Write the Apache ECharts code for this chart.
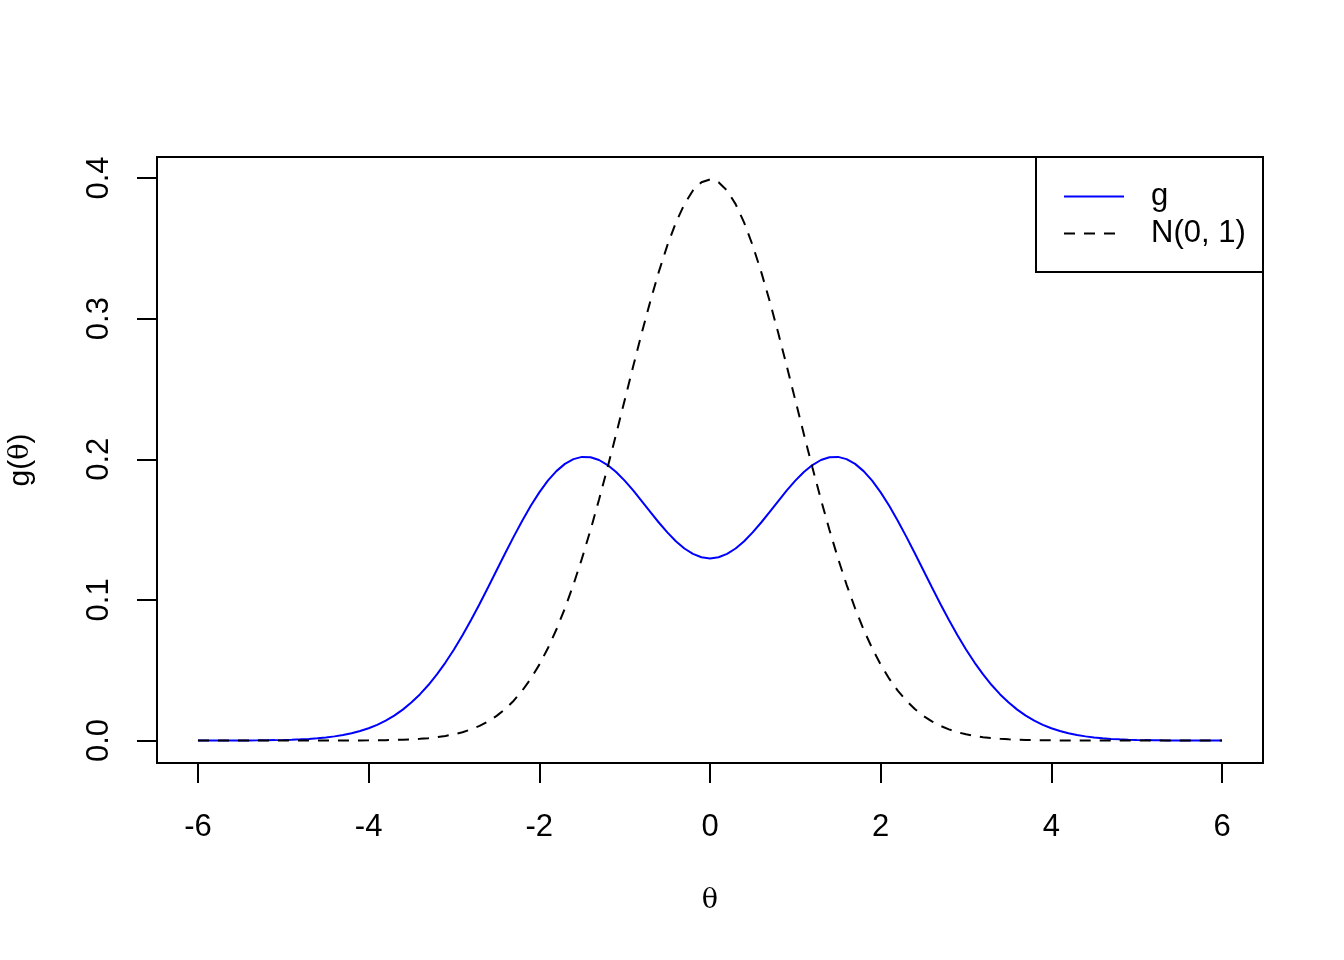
<!DOCTYPE html>
<html>
<head>
<meta charset="utf-8">
<script src="https://cdn.jsdelivr.net/npm/echarts@6/dist/echarts.min.js"></script>
<style>html,body{margin:0;padding:0;background:#fff;}#c{width:1344px;height:960px;}</style>
</head>
<body>
<div id="c"></div>
<script>
var thetaValues = [-6,-5.9,-5.8,-5.7,-5.6,-5.5,-5.4,-5.3,-5.2,-5.1,-5,-4.9,-4.8,-4.7,-4.6,-4.5,-4.4,-4.3,-4.2,-4.1,-4,-3.9,-3.8,-3.7,-3.6,-3.5,-3.4,-3.3,-3.2,-3.1,-3,-2.9,-2.8,-2.7,-2.6,-2.5,-2.4,-2.3,-2.2,-2.1,-2,-1.9,-1.8,-1.7,-1.6,-1.5,-1.4,-1.3,-1.2,-1.1,-1,-0.9,-0.8,-0.7,-0.6,-0.5,-0.4,-0.3,-0.2,-0.1,0,0.1,0.2,0.3,0.4,0.5,0.6,0.7,0.8,0.9,1,1.1,1.2,1.3,1.4,1.5,1.6,1.7,1.8,1.9,2,2.1,2.2,2.3,2.4,2.5,2.6,2.7,2.8,2.9,3,3.1,3.2,3.3,3.4,3.5,3.6,3.7,3.8,3.9,4,4.1,4.2,4.3,4.4,4.5,4.6,4.7,4.8,4.9,5,5.1,5.2,5.3,5.4,5.5,5.6,5.7,5.8,5.9,6];
var gValues = [0.000008,0.000012,0.000019,0.000029,0.000045,0.000067,0.000100,0.000146,0.000213,0.000306,
  0.000437,0.000616,0.000862,0.001192,0.001634,0.002216,0.002977,0.003958,0.005211,0.006792,
  0.008764,0.011198,0.014164,0.017738,0.021992,0.026996,0.032809,0.039477,0.047028,0.055466,
  0.064767,0.074876,0.085704,0.097123,0.108971,0.121053,0.133142,0.144992,0.156340,0.166919,
  0.176469,0.184751,0.191556,0.196714,0.200110,0.201687,0.201453,0.199479,0.195905,0.190927,
  0.184797,0.177810,0.170291,0.162584,0.155035,0.147981,0.141734,0.136568,0.132709,0.130324,
  0.129518,
  0.130324,0.132709,0.136568,0.141734,0.147981,0.155035,0.162584,0.170291,0.177810,0.184797,
  0.190927,0.195905,0.199479,0.201453,0.201687,0.200110,0.196714,0.191556,0.184751,0.176469,
  0.166919,0.156340,0.144992,0.133142,0.121053,0.108971,0.097123,0.085704,0.074876,0.064767,
  0.055466,0.047028,0.039477,0.032809,0.026996,0.021992,0.017738,0.014164,0.011198,0.008764,
  0.006792,0.005211,0.003958,0.002977,0.002216,0.001634,0.001192,0.000862,0.000616,0.000437,
  0.000306,0.000213,0.000146,0.000100,0.000067,0.000045,0.000029,0.000019,0.000012,0.000008];
var normValues = [0,0,0,0,0,0,0,0,0.000001,0.000001,
  0.000002,0.000002,0.000004,0.000006,0.000010,0.000016,0.000025,0.000039,0.000059,0.000089,
  0.000134,0.000199,0.000292,0.000425,0.000612,0.000873,0.001232,0.001723,0.002384,0.003267,
  0.004432,0.005953,0.007915,0.010421,0.013583,0.017528,0.022395,0.028327,0.035475,0.043984,
  0.053991,0.065616,0.078950,0.094049,0.110921,0.129518,0.149727,0.171369,0.194186,0.217852,
  0.241971,0.266085,0.289692,0.312254,0.333225,0.352065,0.368270,0.381388,0.391043,0.396953,
  0.398942,
  0.396953,0.391043,0.381388,0.368270,0.352065,0.333225,0.312254,0.289692,0.266085,0.241971,
  0.217852,0.194186,0.171369,0.149727,0.129518,0.110921,0.094049,0.078950,0.065616,0.053991,
  0.043984,0.035475,0.028327,0.022395,0.017528,0.013583,0.010421,0.007915,0.005953,0.004432,
  0.003267,0.002384,0.001723,0.001232,0.000873,0.000612,0.000425,0.000292,0.000199,0.000134,
  0.000089,0.000059,0.000039,0.000025,0.000016,0.000010,0.000006,0.000004,0.000002,0.000002,
  0.000001,0.000001,0,0,0,0,0,0,0,0];
var xTicks = [-6,-4,-2,0,2,4,6];
var yTicks = [0,0.1,0.2,0.3,0.4];
var seriesNames = ['g','N(0, 1)'];

var font = 'Liberation Sans, Arial, Helvetica, sans-serif';
var serif = 'DejaVu Serif, Liberation Serif, serif';
var chart = echarts.init(document.getElementById('c'), null, {renderer:'canvas'});
chart.setOption({
  animation:false,
  backgroundColor:'#fff',
  grid:{left:157,right:81,top:157,bottom:197,show:true,borderColor:'#000',borderWidth:2,backgroundColor:'transparent',
    containLabel:false,outerBoundsMode:'none'},
  xAxis:{type:'value',min:-6.48,max:6.48,
    name:'θ',nameLocation:'middle',nameGap:124,
    nameTextStyle:{fontFamily:serif,fontSize:27,color:'#000'},
    axisLine:{show:false,onZero:false},splitLine:{show:false},
    axisTick:{show:true,inside:false,length:20,lineStyle:{color:'#000',width:2},customValues:xTicks},
    axisLabel:{show:true,fontFamily:font,fontSize:31,color:'#000',margin:49,customValues:xTicks,
      formatter:function(v){return String(v);}}
  },
  yAxis:{type:'value',min:-0.015958,max:0.4149,
    name:'{a|g(}{b|θ}{a|)}',nameLocation:'middle',nameRotate:90,nameGap:121,
    nameTextStyle:{fontFamily:font,fontSize:30,color:'#000',
      rich:{a:{fontFamily:font,fontSize:30,color:'#000'},b:{fontFamily:serif,fontSize:27,color:'#000'}}},
    axisLine:{show:false,onZero:false},splitLine:{show:false},
    axisTick:{show:true,inside:false,length:20,lineStyle:{color:'#000',width:2},customValues:yTicks},
    axisLabel:{show:true,rotate:90,fontFamily:font,fontSize:31,color:'#000',margin:42,customValues:yTicks,
      formatter:function(v){return v.toFixed(1);}}
  },
  legend:{show:true,orient:'vertical',left:1063,top:181,padding:0,itemWidth:60,itemHeight:14,itemGap:6,
    itemStyle:{opacity:0},
    textStyle:{fontFamily:font,fontSize:31,lineHeight:30,color:'#000',padding:[0,0,0,22]},
    data:seriesNames},
  graphic:[{type:'rect',shape:{x:1036,y:157,width:227,height:115},style:{fill:'transparent',stroke:'#000',lineWidth:2},z:100}],
  series:[
    {name:seriesNames[0],type:'line',data:thetaValues.map(function(t,i){return [t,gValues[i]];}),
      smooth:false,symbol:'none',lineStyle:{color:'#0000ff',width:2},itemStyle:{color:'#0000ff'}},
    {name:seriesNames[1],type:'line',data:thetaValues.map(function(t,i){return [t,normValues[i]];}),
      smooth:false,symbol:'none',lineStyle:{color:'#000',width:2,type:[11,9]},itemStyle:{color:'#000'}}
  ]
});
</script>
</body>
</html>
